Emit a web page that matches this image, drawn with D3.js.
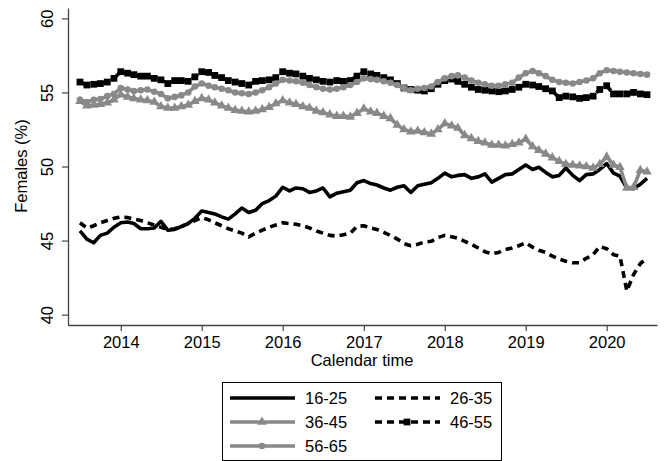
<!DOCTYPE html>
<html>
<head>
<meta charset="utf-8">
<script src="https://cdn.jsdelivr.net/npm/d3@7"></script>
<style>
  body { margin: 0; background: #fff; }
  svg text { font-family: "Liberation Sans", Arial, sans-serif; fill: #000; }
</style>
</head>
<body>
<svg id="chart" width="667" height="461"></svg>
<script>
// monthly observations, Jul 2013 .. Jul 2020
var firstMonth = new Date(2013, 6, 1);

var age16_25 = [45.65,45.1,44.85,45.35,45.5,45.9,
  46.2,46.25,46.15,45.8,45.8,45.85,46.3,45.7,45.75,45.95,46.15,46.5,
  47.0,46.9,46.8,46.6,46.45,46.8,47.2,46.9,47.05,47.5,47.7,48.0,
  48.6,48.35,48.55,48.5,48.25,48.35,48.55,47.95,48.2,48.3,48.4,48.9,
  49.05,48.85,48.75,48.55,48.4,48.6,48.7,48.25,48.7,48.8,48.9,49.2,
  49.55,49.3,49.4,49.45,49.2,49.3,49.5,48.95,49.2,49.45,49.5,49.8,
  50.1,49.8,49.95,49.6,49.3,49.4,49.9,49.4,49.05,49.45,49.5,49.8,
  50.2,49.55,49.35,48.55,48.5,48.8,49.2];

var age26_35 = [46.2,45.85,46.0,46.2,46.35,46.5,
  46.6,46.55,46.45,46.35,46.2,46.05,45.9,45.75,45.8,45.95,46.15,46.35,
  46.55,46.4,46.2,46.0,45.8,45.65,45.5,45.25,45.5,45.7,45.9,46.05,
  46.2,46.15,46.1,46.0,45.85,45.65,45.5,45.35,45.3,45.4,45.5,45.95,
  46.0,45.85,45.75,45.55,45.35,45.1,44.8,44.65,44.75,44.9,44.95,45.2,
  45.35,45.25,45.15,44.95,44.75,44.5,44.25,44.1,44.2,44.4,44.5,44.65,
  44.85,44.55,44.35,44.2,43.95,43.75,43.6,43.5,43.5,43.8,44.05,44.6,
  44.45,44.05,43.95,41.6,42.7,43.45,43.8];

var age36_45 = [54.4,54.1,54.15,54.2,54.3,54.5,
  54.85,54.7,54.6,54.5,54.45,54.35,54.05,53.95,53.95,54.05,54.15,54.4,
  54.6,54.5,54.3,54.1,53.95,53.8,53.75,53.7,53.75,53.85,54.0,54.25,
  54.45,54.3,54.2,54.05,53.95,53.75,53.65,53.5,53.4,53.4,53.35,53.6,
  53.9,53.7,53.6,53.4,53.25,52.8,52.5,52.35,52.4,52.3,52.2,52.5,
  52.9,52.75,52.6,52.1,51.9,51.7,51.6,51.45,51.45,51.4,51.5,51.6,
  51.85,51.35,51.1,50.85,50.6,50.35,50.15,50.1,50.05,50.0,49.9,50.15,
  50.65,50.1,49.95,48.55,48.6,49.75,49.65];

var age46_55 = [55.7,55.5,55.55,55.6,55.7,55.95,
  56.4,56.3,56.2,56.1,56.1,55.95,55.85,55.6,55.8,55.8,55.75,56.05,
  56.4,56.35,56.15,56.0,55.8,55.7,55.6,55.5,55.75,55.8,55.85,56.0,
  56.4,56.3,56.25,56.1,55.95,55.85,55.75,55.7,55.8,55.75,55.8,56.1,
  56.4,56.25,56.15,56.0,55.85,55.6,55.3,55.2,55.15,55.1,55.25,55.55,
  55.8,55.9,55.75,55.55,55.35,55.2,55.15,55.1,55.05,55.1,55.2,55.35,
  55.55,55.5,55.4,55.25,55.1,54.65,54.75,54.7,54.6,54.65,54.75,55.2,
  55.45,54.9,54.9,54.9,55.0,54.9,54.85];

var age56_65 = [54.5,54.35,54.5,54.55,54.75,54.9,
  55.3,55.2,55.1,55.15,55.2,55.05,54.9,54.6,54.7,54.8,55.0,55.4,
  55.6,55.45,55.35,55.25,55.15,55.0,54.95,54.9,55.0,55.15,55.35,55.6,
  55.85,55.8,55.75,55.65,55.5,55.35,55.25,55.2,55.25,55.35,55.5,55.7,
  55.95,55.9,55.85,55.75,55.65,55.5,55.3,55.15,55.25,55.3,55.4,55.7,
  55.95,56.1,56.15,56.0,55.8,55.65,55.55,55.45,55.45,55.55,55.65,56.0,
  56.3,56.45,56.3,56.1,55.85,55.7,55.65,55.6,55.7,55.8,55.95,56.3,
  56.5,56.45,56.4,56.35,56.3,56.25,56.2];

var yTicks = [40, 45, 50, 55, 60];
var xTickYears = [2014, 2015, 2016, 2017, 2018, 2019, 2020];

var grey = "#898989";
var series = [
  {name: "16-25", values: age16_25, color: "#000", dash: null, marker: null},
  {name: "26-35", values: age26_35, color: "#000", dash: "7,5", marker: null},
  {name: "36-45", values: age36_45, color: grey, dash: null, marker: d3.symbolTriangle, size: 40},
  {name: "46-55", values: age46_55, color: "#000", dash: "7,5", marker: d3.symbolSquare, size: 46},
  {name: "56-65", values: age56_65, color: grey, dash: null, marker: d3.symbolCircle, size: 34}
];

var fontSize = 16.5;
var svg = d3.select("#chart");

var x = d3.scaleTime()
  .domain([new Date(2013, 4, 8), new Date(2020, 7, 15)])
  .range([68, 657]);
var y = d3.scaleLinear().domain([39.3, 60.7]).range([325, 8]);

function monthDate(i) { return new Date(firstMonth.getFullYear(), firstMonth.getMonth() + i, 1); }

// axes
var yAxis = svg.append("g").attr("transform", "translate(68,0)")
  .call(d3.axisLeft(y).tickValues(yTicks).tickSize(6).tickSizeOuter(0));
var xAxis = svg.append("g").attr("transform", "translate(0,325)")
  .call(d3.axisBottom(x).tickValues(xTickYears.map(function(d){ return new Date(d, 0, 1); }))
    .tickFormat(d3.timeFormat("%Y")).tickSize(6).tickSizeOuter(0));
[yAxis, xAxis].forEach(function(a){
  a.select(".domain").attr("stroke", "#444").attr("stroke-width", 1.3);
  a.selectAll(".tick line").attr("stroke", "#444").attr("stroke-width", 1.2);
  a.selectAll(".tick text").attr("font-size", fontSize).attr("font-family", "Liberation Sans, Arial, sans-serif");
});
xAxis.selectAll(".tick text").attr("dy", null).attr("y", 23);
yAxis.selectAll(".tick text")
  .attr("x", null).attr("dy", null)
  .attr("text-anchor", "middle")
  .attr("transform", "translate(-15,0) rotate(-90)");

svg.append("text").attr("transform", "translate(27,166) rotate(-90)")
  .attr("text-anchor", "middle").attr("font-size", fontSize).text("Females (%)");
svg.append("text").attr("x", 362).attr("y", 366)
  .attr("text-anchor", "middle").attr("font-size", fontSize).text("Calendar time");

// lines and markers
var line = d3.line().x(function(d, i){ return x(monthDate(i)); }).y(function(d){ return y(d); });
series.forEach(function(s){
  svg.append("path").datum(s.values)
    .attr("d", line)
    .attr("fill", "none")
    .attr("stroke", s.color)
    .attr("stroke-width", 3.6)
    .attr("stroke-dasharray", s.dash)
    .attr("stroke-linejoin", "round");
  if (s.marker) {
    svg.append("g").selectAll("path").data(s.values).enter().append("path")
      .attr("d", d3.symbol().type(s.marker).size(s.size))
      .attr("transform", function(d, i){ return "translate(" + x(monthDate(i)) + "," + y(d) + ")"; })
      .attr("fill", s.color);
  }
});

// legend
var legend = svg.append("g");
legend.append("rect").attr("x", 222.5).attr("y", 382.5).attr("width", 279).attr("height", 78)
  .attr("fill", "#fff").attr("stroke", "#000").attr("stroke-width", 1);
var legendPos = [
  {lx: 230, ty: 398}, {lx: 375, ty: 398},
  {lx: 230, ty: 422}, {lx: 375, ty: 422},
  {lx: 230, ty: 446}
];
series.forEach(function(s, i){
  var p = legendPos[i];
  var g = legend.append("g");
  g.append("line").attr("x1", p.lx).attr("x2", p.lx + 65).attr("y1", p.ty).attr("y2", p.ty)
    .attr("stroke", s.color).attr("stroke-width", 3.6).attr("stroke-dasharray", s.dash);
  if (s.marker) {
    g.append("path").attr("d", d3.symbol().type(s.marker).size(s.size))
      .attr("transform", "translate(" + (p.lx + 32) + "," + p.ty + ")").attr("fill", s.color);
  }
  g.append("text").attr("x", p.lx + 75).attr("y", p.ty + 6).attr("font-size", fontSize).text(s.name);
});
</script>
</body>
</html>
